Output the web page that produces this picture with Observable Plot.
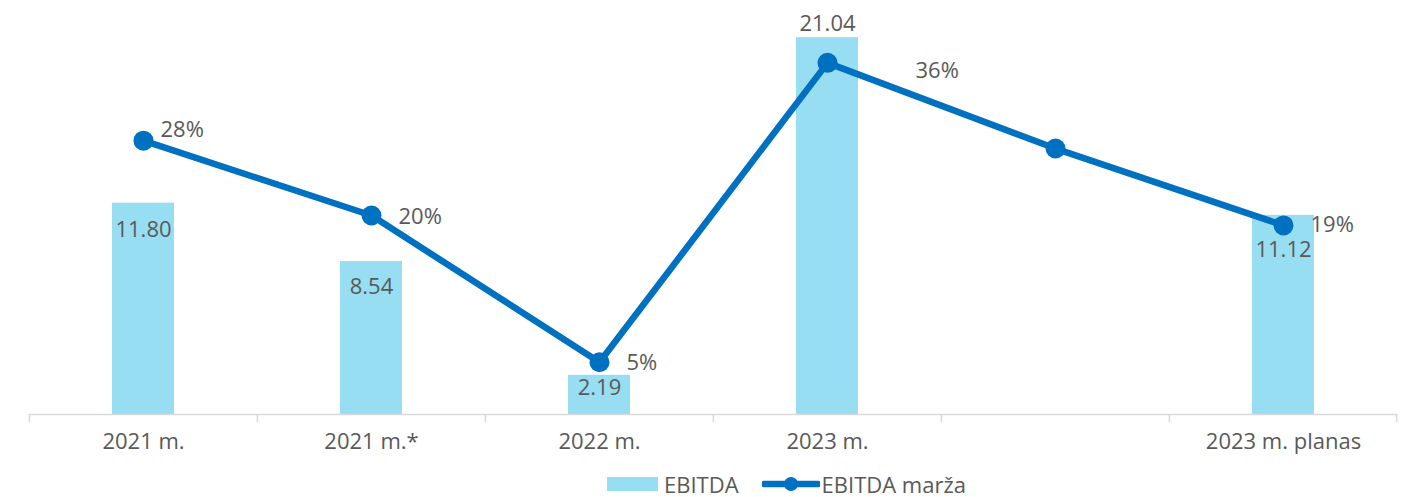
<!DOCTYPE html>
<html>
<head>
<meta charset="utf-8">
<script src="https://cdn.jsdelivr.net/npm/d3@7"></script>
<script src="https://cdn.jsdelivr.net/npm/@observablehq/plot@0.6"></script>
<style>
  html, body { margin: 0; padding: 0; background: #fff; overflow: hidden; }
  #chart { width: 1403px; }
  .legend { height: 26px; padding-top: 9px; display: flex; align-items: center; padding-left: 607px;
    font-family: "Open Sans", sans-serif; font-size: 22px; color: #595959; }
  .sw-bar { width: 51px; height: 14px; background: #97DEF3; margin-right: 6px; }
  .gap { width: 23px; }
</style>
</head>
<body>
<div id="chart"></div>
<script>
// ---- data ----
const categories = ["2021 m.", "2021 m.*", "2022 m.", "2023 m.", " ", "2023 m. planas"];
const ebitda = [11.80, 8.54, 2.19, 21.04, null, 11.12];
const margin = [0.278, 0.202, 0.053, 0.357, 0.27, 0.192];
const marginLabelShown = [true, true, true, true, false, true];

// axes: primary 0–22 (EBITDA), secondary 0–40% (margin)
const primaryMax = 22;
const secondaryMax = 0.40;

const rows = categories.map((c, i) => ({
  cat: c, ebitda: ebitda[i], margin: margin[i],
  marginU: margin[i] * primaryMax / secondaryMax,
  showPct: marginLabelShown[i]
}));
const bars = rows.filter(d => d.ebitda != null);

const FONT = "Open Sans, sans-serif";
const TXT = "#595959";
const BAR = "#97DEF3";
const LINE = "#0070C0";
const step = (1403 - 28.5 - 5.5) / categories.length;

const barLabel = (cats, dy) => Plot.text(bars.filter(d => cats.includes(d.cat)), {
  x: "cat", y: "ebitda", text: d => d.ebitda.toFixed(2), dy,
  fill: TXT, fontSize: 22, fontFamily: FONT
});
const pctLabel = (cats, dx, dy) => Plot.text(rows.filter(d => d.showPct && cats.includes(d.cat)), {
  x: "cat", y: "marginU", text: d => Math.round(d.margin * 100) + "%", dx, dy,
  textAnchor: "start", fill: TXT, fontSize: 22, fontFamily: FONT
});

const chart = Plot.plot({
  width: 1403,
  height: 462,
  marginLeft: 28.5,
  marginRight: 5.5,
  marginTop: 20,
  marginBottom: 48,
  style: { fontFamily: FONT, background: "#fff" },
  x: { type: "band", domain: categories, padding: 0, label: null },
  y: { domain: [0, primaryMax], axis: null },
  marks: [
    Plot.barY(bars, { x: "cat", y: "ebitda", fill: BAR, insetLeft: 83, insetRight: 83 }),
    Plot.ruleY([0], { stroke: "#D9D9D9", strokeWidth: 1.5 }),
    Plot.ruleX(categories, { x: d => d, y1: 0, y2: -0.45, dx: -step / 2, stroke: "#D9D9D9", strokeWidth: 1.5 }),
    Plot.ruleX(categories.slice(-1), { x: d => d, y1: 0, y2: -0.45, dx: step / 2 - 1, stroke: "#D9D9D9", strokeWidth: 1.5 }),
    Plot.axisX({ tickSize: 0, tickPadding: 19, fontSize: 22, fontFamily: FONT, color: TXT, label: null, tickFormat: d => d.trim() }),
    barLabel(["2021 m."], 27),
    barLabel(["2021 m.*"], 25.5),
    barLabel(["2022 m."], 13),
    barLabel(["2023 m."], -13.5),
    barLabel(["2023 m. planas"], 34.5),
    Plot.line(rows, { x: "cat", y: "marginU", stroke: LINE, strokeWidth: 6.5, strokeLinejoin: "round" }),
    Plot.dot(rows, { x: "cat", y: "marginU", r: 10, fill: LINE, stroke: "none" }),
    pctLabel(["2021 m."], 17, -11),
    pctLabel(["2021 m.*", "2022 m."], 27, 1),
    pctLabel(["2023 m."], 88, 8),
    pctLabel(["2023 m. planas"], 27, 0)
  ]
});
document.getElementById("chart").appendChild(chart);

// legend below the svg
const legend = document.createElement("div");
legend.className = "legend";
legend.innerHTML = `
  <div class="sw-bar"></div><span>EBITDA</span><div class="gap"></div>
  <svg width="58" height="20" style="margin-right:2px"><line x1="2" y1="10" x2="56" y2="10" stroke="${LINE}" stroke-width="6.5" stroke-linecap="round"/><circle cx="29" cy="10" r="7" fill="${LINE}"/></svg><span>EBITDA marža</span>`;
document.body.appendChild(legend);
</script>
</body>
</html>
